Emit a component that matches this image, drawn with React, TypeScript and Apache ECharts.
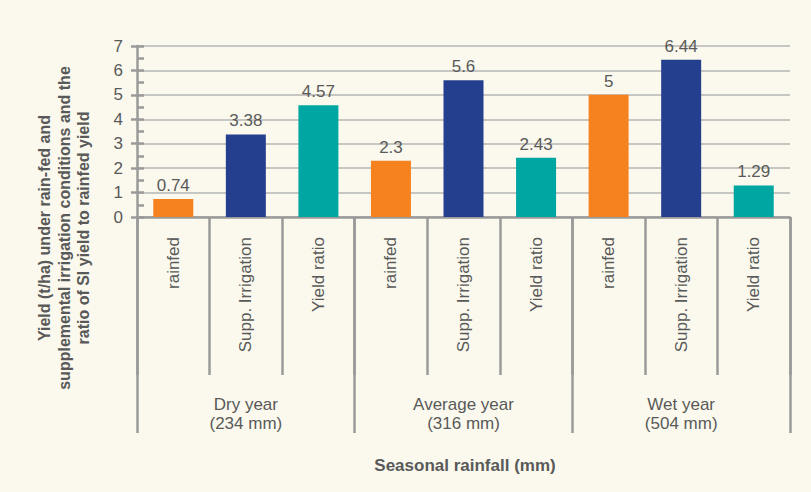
import React, { useEffect, useRef } from "react";
import * as echarts from "echarts";

const categories = [
  "rainfed", "Supp. Irrigation", "Yield ratio",
  "rainfed", "Supp. Irrigation", "Yield ratio",
  "rainfed", "Supp. Irrigation", "Yield ratio",
];
const groups = ["Dry year\n(234 mm)", "Average year\n(316 mm)", "Wet year\n(504 mm)"];
const values = [0.74, 3.38, 4.57, 2.3, 5.6, 2.43, 5, 6.44, 1.29];
const seriesColors = ["#F5821F", "#243F8E", "#00A6A1"];
const yTitle = "Yield (t/ha) under rain-fed and\nsupplemental irrigation conditions and the\nratio of SI yield to rainfed yield";
const xTitle = "Seasonal rainfall (mm)";

const FONT = "'Liberation Sans', Arial, sans-serif";
const TEXT = "#595959";
const AXIS = "#9a9a9a";

export default function App() {
  const ref = useRef<HTMLDivElement>(null);
  useEffect(() => {
    if (!ref.current) return;
    const chart = echarts.init(ref.current, null, { renderer: "svg" });
    chart.setOption({
      animation: false,
      backgroundColor: "#FBF9EE",
      textStyle: { fontFamily: FONT },
      grid: { left: 137, right: 21, top: 46, bottom: 275, containLabel: false },
      xAxis: [
        {
          type: "category",
          data: categories,
          position: "bottom",
          boundaryGap: true,
          axisLine: { show: true, lineStyle: { color: AXIS, width: 2.5 } },
          axisTick: { show: true, interval: 0, length: 158, lineStyle: { color: AXIS, width: 2.5 } },
          axisLabel: { interval: 0, rotate: 90, margin: 20, fontSize: 17, color: TEXT, fontFamily: FONT },
          splitLine: { show: false },
        },
        {
          type: "category",
          data: groups,
          position: "bottom",
          boundaryGap: true,
          axisLine: { show: false },
          axisTick: { show: true, interval: 0, length: 216, lineStyle: { color: AXIS, width: 2.5 } },
          axisLabel: { interval: 0, margin: 178, fontSize: 17, lineHeight: 19, color: TEXT, fontFamily: FONT, align: "center" },
          splitLine: { show: false },
        },
      ],
      yAxis: [
        {
          type: "value",
          position: "left",
          min: 0,
          max: 7,
          interval: 1,
          axisLine: { show: true, lineStyle: { color: AXIS, width: 2.5 } },
          axisTick: { show: true, inside: true, length: 7, lineStyle: { color: AXIS, width: 2.5 } },
          minorTick: { show: true, splitNumber: 2, length: 7, lineStyle: { color: AXIS, width: 2.5 } },
          axisLabel: { margin: 14, fontSize: 17, color: TEXT, fontFamily: FONT },
          splitLine: { show: true, lineStyle: { color: "#b4b4b4", width: 1.5 } },
        },
        {
          type: "value",
          position: "left",
          offset: 0,
          min: 0,
          max: 7,
          interval: 1,
          axisLine: { show: false },
          axisTick: { show: true, inside: false, length: 6, lineStyle: { color: AXIS, width: 2.5 } },
          axisLabel: { show: false },
          splitLine: { show: false },
        },
      ],
      series: [
        {
          type: "bar",
          xAxisIndex: 0,
          yAxisIndex: 0,
          barWidth: 40,
          data: values.map((v, i) => ({ value: v, itemStyle: { color: seriesColors[i % 3] } })),
          label: { show: true, position: "top", distance: 5, fontSize: 17, color: TEXT, fontFamily: FONT },
        },
      ],
      graphic: [
        {
          type: "text",
          x: 64,
          y: 228,
          rotation: Math.PI / 2,
          style: {
            text: yTitle,
            fontSize: 16,
            fontWeight: "bold",
            lineHeight: 19.5,
            fill: TEXT,
            align: "center",
            verticalAlign: "middle",
            fontFamily: FONT,
          },
        },
        {
          type: "text",
          x: 465,
          y: 465,
          style: {
            text: xTitle,
            fontSize: 17,
            fontWeight: "bold",
            fill: TEXT,
            align: "center",
            verticalAlign: "middle",
            fontFamily: FONT,
          },
        },
      ],
    });
    return () => chart.dispose();
  }, []);
  return (
    <div
      ref={ref}
      style={{ position: "fixed", left: 0, top: 0, width: 811, height: 492 }}
    />
  );
}
